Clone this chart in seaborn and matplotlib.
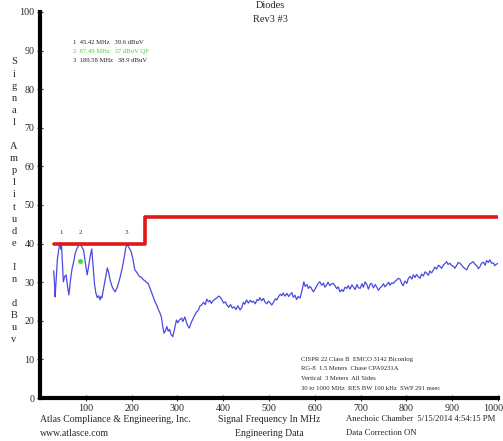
import numpy as np
import pandas as pd
import matplotlib
matplotlib.use("Agg")
import matplotlib.pyplot as plt
import matplotlib.transforms as mtransforms
import seaborn as sns

# ---- DATA ----
freq_mhz = [
    30, 32, 33, 35, 38, 41, 43, 45, 46, 47, 49, 51, 54, 57, 60, 63, 67, 70, 73, 77,
    81, 85, 88, 91, 95, 99, 103, 106, 110, 113, 116, 119, 122, 125, 128, 131, 133, 135, 139, 143,
    147, 150, 153, 157, 160, 164, 168, 172, 176, 180, 184, 187, 190, 193, 196, 199, 203, 207, 211, 215,
    218, 222, 226, 230, 233, 236, 240, 244, 247, 251, 255, 258, 262, 265, 268, 271, 274, 277, 280, 283,
    286, 290, 294, 298, 301, 305, 309, 312, 316, 320, 323, 326, 330, 334, 338, 342, 346, 349, 353, 357,
    361, 364, 368, 371, 374, 378, 382, 386, 390, 393, 397, 401, 405, 408, 412, 416, 420, 424, 428, 432,
    437, 441, 444, 447, 451, 455, 459, 463, 466, 470, 474, 477, 480, 484, 488, 491, 495, 499, 502, 506,
    510, 514, 517, 521, 525, 528, 531, 535, 539, 543, 546, 550, 553, 557, 560, 564, 568, 572, 576, 579,
    583, 586, 590, 594, 597, 601, 605, 608, 611, 615, 619, 622, 626, 629, 633, 637, 640, 644, 648, 651,
    655, 659, 662, 666, 670, 673, 677, 681, 684, 688, 692, 695, 699, 703, 706, 710, 714, 717, 721, 724,
    728, 732, 735, 739, 743, 746, 750, 753, 757, 761, 764, 768, 772, 775, 779, 782, 786, 790, 793, 797,
    801, 804, 808, 812, 815, 819, 822, 826, 830, 833, 837, 841, 844, 848, 851, 855, 859, 862, 866, 870,
    873, 877, 881, 884, 888, 891, 895, 899, 903, 906, 910, 913, 917, 921, 924, 928, 932, 935, 939, 943,
    946, 950, 954, 957, 961, 964, 968, 972, 975, 979, 982, 986, 990, 993, 997, 1000,
]
level_dbuv = [
    33.0, 29.0, 26.2, 30.0, 36.0, 38.5, 39.8, 40.3, 38.5, 39.5, 35.0, 30.1, 31.5, 31.9, 29.0, 26.7, 31.0, 33.5, 35.0, 37.5,
    38.8, 39.6, 39.9, 39.2, 38.3, 35.0, 31.9, 34.0, 37.0, 38.6, 34.0, 29.5, 27.2, 26.0, 26.5, 25.4, 26.3, 25.9, 28.5, 31.0,
    33.7, 32.5, 30.6, 29.0, 28.2, 27.5, 28.5, 30.0, 31.8, 34.0, 36.5, 38.8, 39.8, 39.2, 38.6, 37.9, 36.0, 33.2, 32.6, 31.8,
    31.4, 31.2, 30.6, 30.3, 29.9, 29.7, 28.5, 27.2, 26.2, 25.0, 24.0, 23.0, 22.0, 21.0, 18.5, 16.8, 17.5, 18.5, 17.3, 17.8,
    16.5, 15.9, 18.0, 20.2, 19.5, 20.3, 20.7, 19.8, 21.0, 19.5, 18.6, 18.1, 19.5, 20.5, 21.5, 22.3, 22.8, 23.8, 24.1, 24.8,
    24.2, 25.6, 24.9, 25.3, 24.5, 25.2, 25.6, 25.9, 26.4, 26.2, 25.5, 24.6, 24.9, 24.1, 23.5, 24.2, 23.3, 23.6, 22.9, 23.9,
    22.8, 23.6, 24.8, 24.3, 25.4, 24.6, 25.3, 24.8, 25.1, 24.4, 25.5, 25.2, 26.0, 25.2, 25.8, 24.9, 24.4, 25.1, 24.7, 24.1,
    24.8, 25.7, 25.4, 26.3, 26.9, 26.5, 27.2, 26.4, 27.1, 26.3, 26.8, 27.3, 26.1, 26.6, 25.5, 26.3, 25.9, 27.8, 30.1, 28.9,
    29.4, 28.4, 28.9, 28.1, 27.5, 28.3, 29.2, 29.8, 30.1, 29.2, 29.8, 28.7, 29.3, 30.0, 29.1, 29.6, 29.7, 29.1, 28.3, 28.8,
    27.5, 28.1, 27.6, 28.7, 28.4, 29.1, 28.2, 29.3, 28.8, 28.1, 29.4, 28.6, 28.4, 29.6, 28.7, 30.1, 29.3, 28.2, 29.5, 29.7,
    28.5, 29.4, 28.8, 27.9, 28.6, 28.9, 29.6, 28.8, 29.3, 30.0, 29.2, 29.8, 29.7, 30.2, 30.6, 31.0, 30.8, 29.6, 29.1, 30.3,
    29.7, 30.9, 31.5, 30.8, 31.9, 31.2, 32.0, 31.4, 31.0, 32.1, 31.6, 32.7, 32.3, 31.8, 32.9, 32.4, 33.2, 33.9, 33.4, 34.4,
    34.1, 33.6, 34.5, 34.8, 35.3, 34.6, 34.9, 34.3, 34.1, 33.6, 34.4, 35.1, 34.9, 34.4, 33.9, 33.5, 33.2, 34.1, 34.8, 35.1,
    35.3, 34.6, 34.2, 33.5, 34.1, 34.9, 35.2, 34.4, 35.6, 35.1, 35.8, 34.9, 35.0, 34.3, 34.7, 34.9,
]

# CISPR 22 class B limit (3 m)
limit_freq = [30, 230, 230, 1000]
limit_dbuv = [40, 40, 47, 47]

# marker table
marker_ids = ["1", "2", "3"]
marker_freq = [45.42, 87.49, 189.58]
marker_text = ["1  45.42 MHz   39.6 dBuV", "2  87.49 MHz   37 dBuV QP", "3  189.58 MHz   38.9 dBuV"]
qp_freq = [87.49]
qp_level = [35.6]

info_lines = [
    "CISPR 22 Class B  EMCO 3142 Biconlog",
    "RG-8  1.5 Meters  Chase CPA9231A",
    "Vertical  3 Meters  All Sides",
    "30 to 1000 MHz  RES BW 100 kHz  SWP 291 msec",
]

df = pd.DataFrame({"freq": freq_mhz, "level": level_dbuv})
lim = pd.DataFrame({"freq": limit_freq, "level": limit_dbuv})

sns.set_style("white")
plt.rcParams["font.family"] = ["Liberation Serif", "DejaVu Serif"]

W, H = 503, 441
fig = plt.figure(figsize=(W / 100, H / 100), dpi=100)
ax = fig.add_axes([40 / W, 1 - 398 / H, 458 / W, 386 / H])

sns.lineplot(data=df, x="freq", y="level", ax=ax, color="#4a4ae0", linewidth=0.9,
             sort=False, estimator=None)
sns.lineplot(data=lim, x="freq", y="level", ax=ax, color="#e01818", linewidth=2.6,
             sort=False, estimator=None)
ax.plot(qp_freq, qp_level, "o", color="#33e033", markersize=2.5)

for mid, mf in zip(marker_ids, marker_freq):
    ax.text(mf, 42.3, mid, fontsize=5, ha="center", va="bottom", color="#333333")

ax.set_xlim(0, 1000)
ax.set_ylim(0, 100)
ax.set_xticks(range(100, 1001, 100))
ax.set_yticks(range(0, 101, 10))
ax.tick_params(axis="both", labelsize=7.2, length=5, width=0.8, direction="inout", pad=1.5,
               left=True, bottom=True, color="#333333")
ax.set_xlabel("")
ax.set_ylabel("")
for side in ["top", "right"]:
    ax.spines[side].set_visible(False)
ax.spines["left"].set_linewidth(3)
ax.spines["bottom"].set_linewidth(3)
ax.spines["left"].set_color("black")
ax.spines["bottom"].set_color("black")

# pull the last x label ("1000") in a little so it stays inside the figure
last = ax.get_xticklabels()[-1]
last.set_transform(last.get_transform() + mtransforms.ScaledTranslation(-5 / 100, 0, fig.dpi_scale_trans))

# titles
fig.text(270 / W, 1 - 6 / H, "Diodes", ha="center", va="center", fontsize=7.5)
fig.text(270 / W, 1 - 19 / H, "Rev3 #3", ha="center", va="center", fontsize=7.5)

# marker table
for i, t in enumerate(marker_text):
    fig.text(73 / W, 1 - (43 + 9 * i) / H, t, fontsize=4.8, va="center",
             color="#33dd33" if i == 1 else "#222222")

# vertical stacked y label
ylabel = "Signal Amplitude In dBuv"
yy = 62
for ch in ylabel:
    if ch != " ":
        fig.text(14 / W, 1 - yy / H, ch, ha="center", va="center", fontsize=7.5)
        yy += 12.1
    else:
        yy += 12

# info box
for i, t in enumerate(info_lines):
    fig.text(301 / W, 1 - (359 + 10 * i) / H, t, fontsize=4.8, va="center")

# footer texts
fig.text(40 / W, 1 - 419 / H, "Atlas Compliance & Engineering, Inc.", fontsize=7.0, va="center")
fig.text(40 / W, 1 - 433 / H, "www.atlasce.com", fontsize=7.0, va="center")
fig.text(269 / W, 1 - 419 / H, "Signal Frequency In MHz", fontsize=7.0, va="center", ha="center")
fig.text(269 / W, 1 - 433 / H, "Engineering Data", fontsize=7.0, va="center", ha="center")
fig.text(346 / W, 1 - 419 / H, "Anechoic Chamber  5/15/2014 4:54:15 PM", fontsize=6.2, va="center")
fig.text(346 / W, 1 - 433 / H, "Data Correction ON", fontsize=6.2, va="center")

fig.savefig("out.png", dpi=100)
